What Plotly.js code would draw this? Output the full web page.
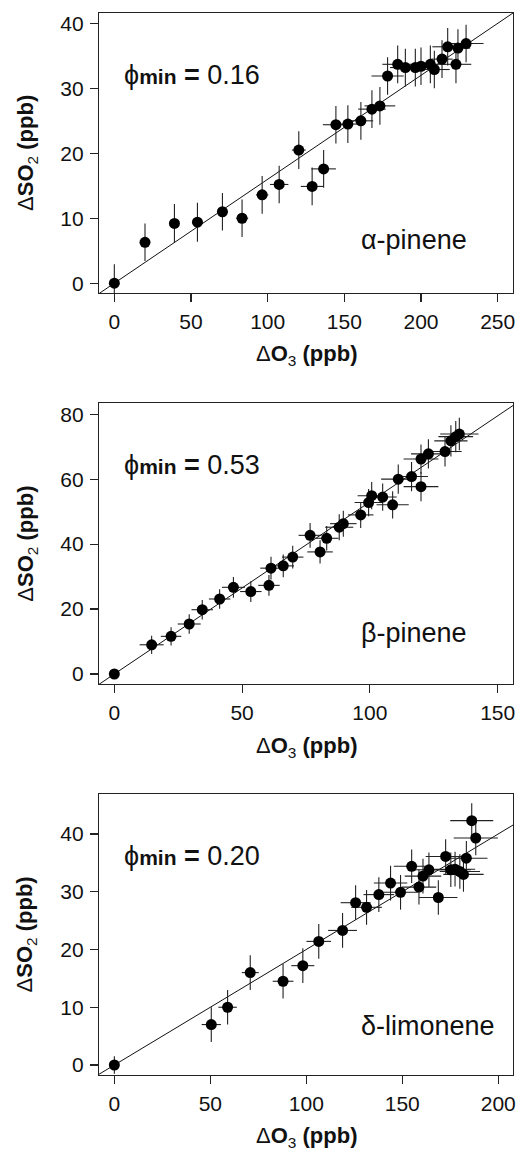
<!DOCTYPE html>
<html>
<head>
<meta charset="utf-8">
<script src="https://cdn.plot.ly/plotly-3.0.1.min.js"></script>
<style>html,body{margin:0;padding:0;background:#fff;}#chart{width:519px;height:1151px;}</style>
</head>
<body>
<div id="chart"></div>
<script>
// ---------- Panel 1: alpha-pinene ----------
const aO3 = [0, 20.0, 39.2, 54.2, 70.5, 83.3, 96.4, 107.5, 120.3, 129.0, 136.5, 144.5, 152.3, 160.8, 168.0, 173.2, 178.2, 184.8, 189.8, 196.3, 200.0, 206.1, 208.7, 213.7, 217.4, 222.8, 224.1, 229.4];
const aSO2 = [0, 6.3, 9.2, 9.4, 11.0, 10.0, 13.6, 15.2, 20.5, 14.9, 17.6, 24.4, 24.5, 25.0, 26.8, 27.3, 31.9, 33.7, 33.2, 33.2, 33.4, 33.7, 32.9, 34.5, 36.4, 33.7, 36.2, 36.9];
const aErrX = [1, 1.5, 2, 3.5, 3.6, 4, 4, 6, 4.5, 7.4, 8, 8.5, 8, 8, 9, 10, 10.5, 10, 10, 10, 10, 10, 10, 7, 10, 10, 8, 11.4];
const aErrY = [2.9, 2.9, 3.0, 3.0, 2.9, 2.9, 2.9, 2.9, 2.9, 2.9, 2.9, 2.9, 2.9, 2.9, 2.9, 2.9, 2.9, 2.9, 2.9, 2.9, 2.9, 2.9, 2.9, 2.9, 2.9, 2.9, 2.9, 2.9];
const aSlope = 0.16;

// ---------- Panel 2: beta-pinene ----------
const bO3 = [0, 14.6, 22.2, 29.3, 34.4, 41.2, 46.6, 53.4, 60.5, 61.3, 66.1, 69.8, 76.6, 80.5, 83.1, 88.0, 89.6, 96.4, 99.5, 100.7, 105.0, 108.9, 111.1, 116.3, 120.0, 120.0, 122.9, 129.4, 131.7, 133.6, 135.0];
const bSO2 = [0, 9.0, 11.6, 15.4, 19.8, 23.1, 26.7, 25.4, 27.3, 32.6, 33.3, 36.0, 42.7, 37.6, 41.8, 45.2, 46.3, 49.0, 52.8, 54.9, 54.5, 52.1, 60.0, 60.8, 57.7, 66.2, 67.8, 68.5, 71.8, 73.1, 73.9];
const bErrX = [1, 4.7, 4, 4.5, 4.2, 4.2, 4.5, 4.2, 4.2, 4.2, 4.2, 4.2, 4.5, 5, 4.6, 5.5, 5.2, 5, 5.5, 5.5, 5.5, 6.3, 6.7, 6.4, 6.8, 6.8, 6.8, 6.5, 6.5, 6.8, 7.5];
const bErrY = [1.5, 2.8, 2.8, 3.0, 3.0, 3.0, 3.2, 3.2, 3.2, 3.5, 3.5, 3.5, 3.8, 3.6, 3.8, 4.0, 4.0, 4.0, 4.2, 4.2, 4.2, 4.2, 4.5, 4.5, 4.5, 4.5, 4.5, 4.6, 4.8, 4.8, 5.0];
const bSlope = 0.53;

// ---------- Panel 3: delta-limonene ----------
const dO3 = [0, 50.5, 59.0, 70.8, 87.9, 98.2, 106.5, 118.9, 125.7, 131.4, 137.8, 143.9, 149.1, 154.9, 158.7, 160.8, 163.9, 168.8, 172.6, 175.3, 177.5, 180.0, 181.9, 183.4, 186.2, 188.3];
const dSO2 = [0, 7.0, 10.0, 16.0, 14.5, 17.2, 21.4, 23.3, 28.1, 27.3, 29.5, 31.5, 29.9, 34.4, 30.8, 32.7, 33.8, 29.0, 36.1, 33.8, 33.9, 33.5, 33.0, 35.8, 42.3, 39.3];
const dErrX = [1, 5, 4.8, 4.4, 5.4, 6, 6.4, 7.5, 7.8, 8, 8, 8.7, 9, 9.3, 9, 9.5, 9.5, 10, 10.4, 10.5, 10.5, 10.5, 10.5, 11, 11.2, 11.5];
const dErrY = [1.5, 3.0, 3.0, 3.0, 3.0, 3.0, 3.0, 3.0, 3.0, 3.0, 3.0, 3.0, 3.0, 2.9, 3.0, 3.0, 3.0, 3.0, 3.0, 3.0, 3.0, 3.0, 3.0, 3.0, 3.0, 3.0];
const dSlope = 0.20;

const xRanges = [[-10, 260], [-6, 156], [-8, 207.7]];
const yRanges = [[-1.5, 41.6], [-3.1, 83.4], [-1.73, 46.9]];
const xDticks = [50, 50, 50];
const yDticks = [10, 20, 10];
const labels = ['α-pinene', 'β-pinene', 'δ-limonene'];
const phiVals = ['0.16', '0.53', '0.20'];

const FONT = 'Liberation Sans, Arial, sans-serif';
const INK = '#111';

const sets = [
  {x: aO3, y: aSO2, ex: aErrX, ey: aErrY, slope: aSlope},
  {x: bO3, y: bSO2, ex: bErrX, ey: bErrY, slope: bSlope},
  {x: dO3, y: dSO2, ex: dErrX, ey: dErrY, slope: dSlope}
];

const traces = [];
sets.forEach((s, i) => {
  const xa = i === 0 ? 'x' : 'x' + (i + 1);
  const ya = i === 0 ? 'y' : 'y' + (i + 1);
  const fx = xRanges[i];
  traces.push({
    x: fx, y: fx.map(v => v * s.slope), xaxis: xa, yaxis: ya,
    mode: 'lines', line: {color: INK, width: 1}, hoverinfo: 'skip', showlegend: false
  });
  traces.push({
    x: s.x, y: s.y, xaxis: xa, yaxis: ya, mode: 'markers', showlegend: false,
    marker: {color: '#000', size: 11},
    error_x: {type: 'data', array: s.ex, visible: true, color: '#222', thickness: 1.1, width: 0},
    error_y: {type: 'data', array: s.ey, visible: true, color: '#222', thickness: 1.1, width: 0}
  });
});

// vertical domains (paper fractions)
const yDomains = [[0.7364, 1], [0.3681, 0.6326], [0, 0.2645]];

function axisBase() {
  return {
    showline: true, mirror: true, linecolor: '#222', linewidth: 1.2,
    ticks: 'outside', ticklen: 8, tickwidth: 1.2, tickcolor: '#222',
    showgrid: false, zeroline: false,
    tickfont: {family: FONT, size: 21, color: INK},
    fixedrange: true
  };
}

const layout = {
  width: 519, height: 1151,
  margin: {l: 99, r: 6, t: 13, b: 75.7},
  paper_bgcolor: '#fff', plot_bgcolor: '#fff',
  showlegend: false,
  annotations: []
};

const xTitleY = [0.6776, 0.3092, -0.0581];
const yTitleY = [0.8682, 0.5003, 0.1323];

for (let i = 0; i < 3; i++) {
  const sfx = i === 0 ? '' : String(i + 1);
  const xa = Object.assign(axisBase(), {
    domain: [0, 1], range: xRanges[i], dtick: xDticks[i], tick0: 0,
    anchor: 'y' + sfx, ticklabelstandoff: 2
  });
  const ya = Object.assign(axisBase(), {
    domain: yDomains[i], range: yRanges[i], dtick: yDticks[i], tick0: 0,
    anchor: 'x' + sfx, ticklabelstandoff: 2
  });
  layout['xaxis' + sfx] = xa;
  layout['yaxis' + sfx] = ya;

  const xref = 'x' + sfx + ' domain';
  const yref = 'y' + sfx + ' domain';
  layout.annotations.push({
    xref: xref, yref: yref, x: 0.055, y: 0.779, xanchor: 'left', yanchor: 'middle',
    showarrow: false,
    text: 'ϕ<b><span style="font-size:21px">min</span></b> <b>=</b> ' + phiVals[i],
    font: {family: FONT, size: 27, color: INK}
  });
  layout.annotations.push({
    xref: xref, yref: yref, x: 0.628, y: [0.19, 0.183, 0.173][i], xanchor: 'left', yanchor: 'middle',
    showarrow: false, text: labels[i],
    font: {family: FONT, size: 27, color: INK}
  });
  layout.annotations.push({
    xref: 'paper', yref: 'paper', x: 0.5, y: xTitleY[i], xanchor: 'center', yanchor: 'middle',
    showarrow: false, text: 'Δ<b>O</b><sub>3</sub><b> (ppb)</b>',
    font: {family: FONT, size: 22, color: INK}
  });
  layout.annotations.push({
    xref: 'paper', yref: 'paper', x: -0.174, y: yTitleY[i], xanchor: 'center', yanchor: 'middle',
    textangle: -90, showarrow: false, text: 'Δ<b>SO</b><sub>2</sub><b> (ppb)</b>',
    font: {family: FONT, size: 22, color: INK}
  });
}

Plotly.newPlot('chart', traces, layout, {staticPlot: true, displayModeBar: false});
</script>
</body>
</html>
